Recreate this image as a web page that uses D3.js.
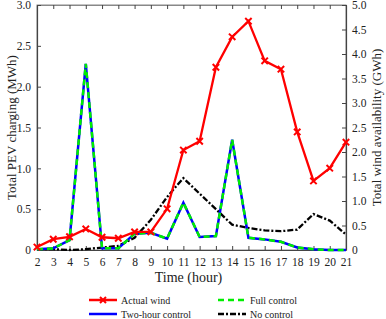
<!DOCTYPE html>
<html>
<head>
<meta charset="utf-8">
<script src="https://cdn.jsdelivr.net/npm/d3@7"></script>
<style>
  body { margin: 0; background: #fff; }
</style>
</head>
<body>
<div id="chart"></div>
<script>
// hours on the x axis
const hours = [2, 3, 4, 5, 6, 7, 8, 9, 10, 11, 12, 13, 14, 15, 16, 17, 18, 19, 20, 21]
// wind availability (GWh, right axis)
const actualWind = [0.06, 0.22, 0.27, 0.43, 0.26, 0.24, 0.37, 0.37, 0.84, 2.04, 2.22, 3.73, 4.35, 4.67, 3.86, 3.69, 2.41, 1.41, 1.67, 2.2]
// PEV charging (MWh, left axis)
const fullControl = [0.01, 0.02, 0.12, 2.28, 0.02, 0.02, 0.2, 0.21, 0.14, 0.58, 0.16, 0.17, 1.35, 0.15, 0.13, 0.1, 0.03, 0.01, 0.0, 0.0]
const twoHourControl = [0.01, 0.02, 0.12, 2.28, 0.02, 0.02, 0.2, 0.21, 0.14, 0.58, 0.16, 0.17, 1.35, 0.15, 0.13, 0.1, 0.03, 0.01, 0.0, 0.0]
const noControl = [0.01, 0.01, 0.0, 0.01, 0.03, 0.05, 0.15, 0.37, 0.65, 0.88, 0.69, 0.5, 0.31, 0.27, 0.24, 0.23, 0.25, 0.44, 0.36, 0.19]
const leftTicks = [0, 0.5, 1.0, 1.5, 2.0, 2.5, 3.0]
const rightTicks = [0, 0.5, 1.0, 1.5, 2.0, 2.5, 3.0, 3.5, 4.0, 4.5, 5.0]

const width = 386
const height = 319
const m = {left: 37, right: 40, top: 5, bottom: 69}
const font = "'Liberation Serif', 'Times New Roman', serif"

const svg = d3.select("#chart").append("svg")
  .attr("width", width)
  .attr("height", height)
  .attr("font-family", font)

const x = d3.scaleLinear().domain([2, 21]).range([m.left, width - m.right])
const yL = d3.scaleLinear().domain([0, 3]).range([height - m.bottom, m.top])
const yR = d3.scaleLinear().domain([0, 5]).range([height - m.bottom, m.top])

const fmt = d => d === 0 ? "0" : d3.format(".1f")(d)
const axisColor = "#444"

// frame
svg.append("rect")
  .attr("x", m.left).attr("y", m.top)
  .attr("width", width - m.right - m.left)
  .attr("height", height - m.bottom - m.top)
  .attr("fill", "none").attr("stroke", "#888").attr("stroke-width", 1)

function styleAxis(g) {
  g.attr("font-family", font)
  g.select(".domain").attr("stroke", axisColor).attr("stroke-width", 1.2)
  g.selectAll(".tick line").attr("stroke", axisColor)
  g.selectAll(".tick text").attr("font-size", 11.5).attr("fill", "#222")
}

// bottom axis, ticks pointing in
svg.append("g")
  .attr("transform", `translate(0,${height - m.bottom})`)
  .call(d3.axisBottom(x).tickValues(hours).tickSizeInner(-4).tickSizeOuter(0).tickPadding(8))
  .call(styleAxis)

// top axis, ticks only
svg.append("g")
  .attr("transform", `translate(0,${m.top})`)
  .call(d3.axisTop(x).tickValues(hours).tickSizeInner(-4).tickSizeOuter(0).tickFormat(""))
  .call(g => g.select(".domain").attr("stroke", "#888"))
  .call(g => g.selectAll(".tick line").attr("stroke", axisColor))

svg.append("g")
  .attr("transform", `translate(${m.left},0)`)
  .call(d3.axisLeft(yL).tickValues(leftTicks).tickFormat(fmt).tickSizeInner(-4).tickSizeOuter(0).tickPadding(6))
  .call(styleAxis)

svg.append("g")
  .attr("transform", `translate(${width - m.right},0)`)
  .call(d3.axisRight(yR).tickValues(rightTicks).tickFormat(fmt).tickSizeInner(-4).tickSizeOuter(0).tickPadding(6))
  .call(styleAxis)

// lines
const plot = svg.append("g")

const lineL = d3.line().x((d, i) => x(hours[i])).y(d => yL(d))
const lineR = d3.line().x((d, i) => x(hours[i])).y(d => yR(d))

plot.append("path").datum(noControl)
  .attr("d", lineL).attr("fill", "none")
  .attr("stroke", "#000").attr("stroke-width", 2.3)
  .attr("stroke-dasharray", "6,2,2,2")

plot.append("path").datum(twoHourControl)
  .attr("d", lineL).attr("fill", "none")
  .attr("stroke", "#0000ff").attr("stroke-width", 2.5)

plot.append("path").datum(fullControl)
  .attr("d", lineL).attr("fill", "none")
  .attr("stroke", "#00ee00").attr("stroke-width", 2.5)
  .attr("stroke-dasharray", "6,4")

plot.append("path").datum(actualWind)
  .attr("d", lineR).attr("fill", "none")
  .attr("stroke", "#ff0000").attr("stroke-width", 2.3)

function cross(g, cx, cy, s) {
  g.append("path")
    .attr("d", `M${cx - s},${cy - s}L${cx + s},${cy + s}M${cx - s},${cy + s}L${cx + s},${cy - s}`)
    .attr("stroke", "#ff0000").attr("stroke-width", 2)
}

const marks = plot.append("g")
actualWind.forEach((d, i) => cross(marks, x(hours[i]), yR(d), 3.2))

// axis titles
svg.append("text")
  .attr("transform", `translate(16,${(m.top + height - m.bottom) / 2}) rotate(-90)`)
  .attr("text-anchor", "middle").attr("font-size", 13).attr("fill", "#222")
  .text("Total PEV charging (MWh)")

svg.append("text")
  .attr("transform", `translate(381,${(m.top + height - m.bottom) / 2}) rotate(-90)`)
  .attr("text-anchor", "middle").attr("font-size", 13).attr("fill", "#222")
  .text("Total wind availability (GWh)")

svg.append("text")
  .attr("x", (m.left + width - m.right) / 2 - 3).attr("y", 282)
  .attr("text-anchor", "middle").attr("font-size", 14).attr("fill", "#222")
  .text("Time (hour)")

// legend
const legend = [
  {name: "Actual wind", color: "#ff0000", dash: null, lx: 89, ly: 300, mark: true},
  {name: "Two-hour control", color: "#0000ff", dash: null, lx: 89, ly: 314},
  {name: "Full control", color: "#00ee00", dash: "6,4", lx: 218, ly: 300},
  {name: "No control", color: "#000", dash: "6,2,2,2", lx: 218, ly: 314}
]
const lg = svg.append("g")
legend.forEach(l => {
  lg.append("line")
    .attr("x1", l.lx).attr("x2", l.lx + 28)
    .attr("y1", l.ly).attr("y2", l.ly)
    .attr("stroke", l.color).attr("stroke-width", 2.5)
    .attr("stroke-dasharray", l.dash)
  if (l.mark) cross(lg, l.lx + 14, l.ly, 3)
  lg.append("text")
    .attr("x", l.lx + 32).attr("y", l.ly + 3.5)
    .attr("font-size", 10).attr("fill", "#222")
    .text(l.name)
})
</script>
</body>
</html>
